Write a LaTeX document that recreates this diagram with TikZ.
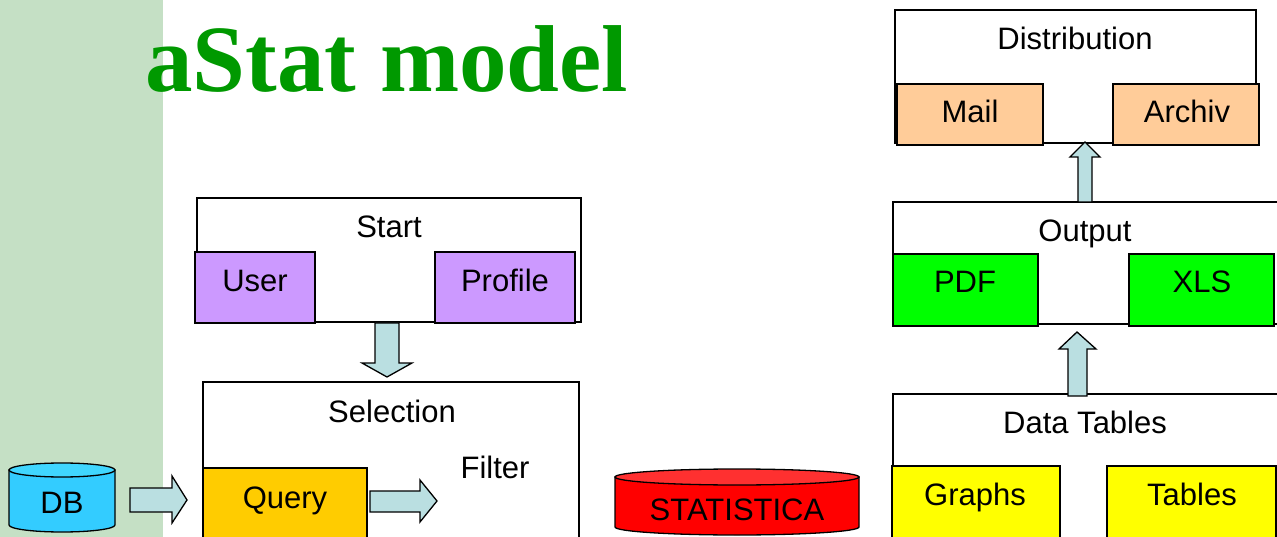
\documentclass[tikz,border=0pt]{standalone}
\usepackage{fontspec}
\setmainfont{Liberation Sans}
\newfontfamily\titlefont{Liberation Serif}
\definecolor{barc}{RGB}{197,224,197}
\definecolor{titlegreen}{RGB}{0,153,0}
\definecolor{arrowc}{RGB}{186,223,225}
\definecolor{purplec}{RGB}{204,153,255}
\definecolor{queryc}{RGB}{255,204,0}
\definecolor{peachc}{RGB}{255,204,153}
\definecolor{greenc}{RGB}{0,255,0}
\definecolor{yellowc}{RGB}{255,255,0}
\definecolor{dbc}{RGB}{51,204,255}
\definecolor{dbtop}{RGB}{64,214,255}
\definecolor{redc}{RGB}{255,0,0}
\definecolor{redtop}{RGB}{255,48,48}
\begin{document}
\begin{tikzpicture}[x=1pt,y=-1pt,
  box/.style={draw=black, line width=1.3pt, fill=white, inner sep=0pt, outer sep=0pt},
  sub/.style={box, fill=#1},
  lbl/.style={inner sep=0pt, anchor=base, font=\fontsize{31}{36}\selectfont},
  barrow/.style={draw=black, line width=1.3pt, fill=arrowc, line join=miter},
  cyl/.style={draw=black, line width=1.3pt}]
\useasboundingbox (0,0) rectangle (1277,537);
\clip (0,0) rectangle (1277,537);
\fill[white] (0,0) rectangle (1277,537);
\fill[barc] (0,0) rectangle (163,537);

% title
\node[anchor=base west, inner sep=0pt, text=titlegreen,
      font=\titlefont\bfseries\fontsize{95}{100}\selectfont] (title) at (145,92) {aStat model};

% Start group
\node[box, minimum width=384pt, minimum height=124pt] (start) at (389,260) {};
\node[sub=purplec, minimum width=120pt, minimum height=71pt] (user) at (255,287.5) {};
\node[sub=purplec, minimum width=140pt, minimum height=71pt] (profile) at (505,287.5) {};
\node[lbl] (startl) at (389,238) {Start};
\node[lbl] (userl) at (255,292) {User};
\node[lbl] (profilel) at (505,292) {Profile};

% Selection group
\node[box, minimum width=376pt, minimum height=218pt] (selection) at (391,491) {};
\node[sub=queryc, minimum width=164pt, minimum height=132pt] (query) at (285,534) {};
\node[lbl] (selectionl) at (392,422) {Selection};
\node[lbl] (filterl) at (495,478) {Filter};
\node[lbl] (queryl) at (285,508) {Query};

% Start -> Selection
\draw[barrow] (375,323) -- (399,323) -- (399,363) -- (412,363) -- (387,377)
  -- (362,363) -- (375,363) -- cycle;
% Query -> Filter
\draw[barrow] (370,491) -- (420,491) -- (420,480) -- (437,501) -- (420,522)
  -- (420,512) -- (370,512) -- cycle;
% DB -> Query
\draw[barrow] (130,488) -- (172,488) -- (172,476) -- (187,500) -- (172,523)
  -- (172,512) -- (130,512) -- cycle;

% DB cylinder
\draw[cyl, fill=dbc] (9,470) -- (9,525) arc[start angle=180, end angle=360, x radius=53pt, y radius=7pt]
  -- (115,470) -- cycle;
\draw[cyl, fill=dbtop] (62,470) ellipse [x radius=53pt, y radius=7pt];
\node[lbl] (db) at (62,513) {DB};

% STATISTICA cylinder
\draw[cyl, fill=redc] (615,477) -- (615,527) arc[start angle=180, end angle=360, x radius=122pt, y radius=8pt]
  -- (859,477) -- cycle;
\draw[cyl, fill=redtop] (737,477) ellipse [x radius=122pt, y radius=8pt];
\node[lbl] (statistica) at (737,520) {STATISTICA};

% Distribution group
\node[box, minimum width=361pt, minimum height=133pt] (dist) at (1075.5,76.5) {};
\node[sub=peachc, minimum width=146pt, minimum height=61pt] (mail) at (970,114.5) {};
\node[sub=peachc, minimum width=146pt, minimum height=61pt] (archiv) at (1186,114.5) {};
\node[lbl] (distl) at (1075,50) {Distribution};
\node[lbl] (maill) at (970,123) {Mail};
\node[lbl] (archivl) at (1187,123) {Archiv};

% Output group
\node[box, minimum width=407pt, minimum height=122pt] (output) at (1096.5,263) {};
\node[sub=greenc, minimum width=145pt, minimum height=72pt] (pdf) at (965.5,290) {};
\node[sub=greenc, minimum width=145pt, minimum height=72pt] (xls) at (1201.5,290) {};
\node[lbl] (outputl) at (1085,242) {Output};
\node[lbl] (pdfl) at (965,293) {PDF};
\node[lbl] (xlsl) at (1202,293) {XLS};

% Data Tables group
\node[box, minimum width=407pt, minimum height=206pt] (datatables) at (1096.5,497) {};
\node[sub=yellowc, minimum width=168pt, minimum height=134pt] (graphs) at (976,533) {};
\node[sub=yellowc, minimum width=169pt, minimum height=134pt] (tables) at (1191.5,533) {};
\node[lbl] (datatablesl) at (1085,433) {Data Tables};
\node[lbl] (graphsl) at (975,505) {Graphs};
\node[lbl] (tablesl) at (1192,505) {Tables};

% Output -> Distribution
\draw[barrow] (1078,202) -- (1078,157) -- (1070,157) -- (1085,142) -- (1100,157)
  -- (1092,157) -- (1092,202) -- cycle;
% Data Tables -> Output
\draw[barrow] (1068,396) -- (1068,349) -- (1059,349) -- (1077,332) -- (1096,349)
  -- (1087,349) -- (1087,396) -- cycle;
\end{tikzpicture}
\end{document}
